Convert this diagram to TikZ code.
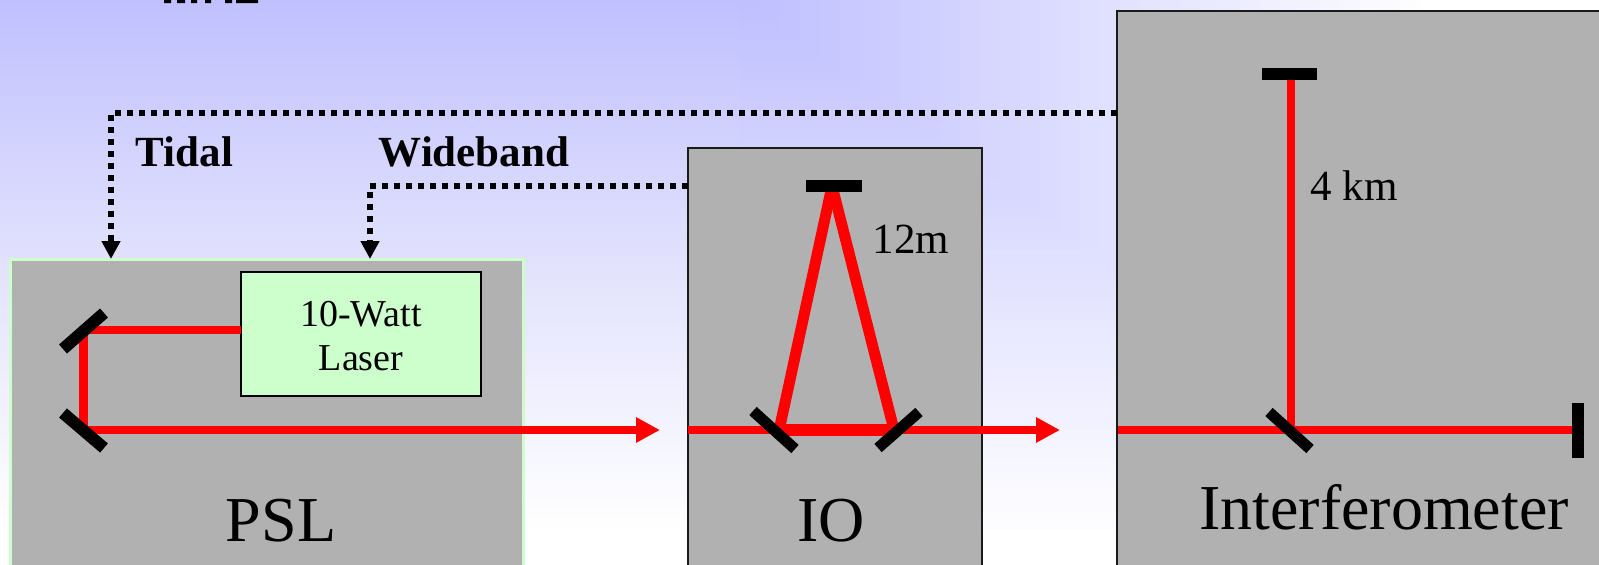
\documentclass[tikz,border=0pt]{standalone}
\usepackage{fontspec}
\setmainfont{Liberation Serif}
\usetikzlibrary{arrows.meta}
\definecolor{panelgray}{HTML}{B1B1B1}
\definecolor{palegreen}{HTML}{CCFFCC}
\definecolor{boxedge}{HTML}{1A1A1A}
\definecolor{bgtop}{HTML}{C0C0FF}
\definecolor{bgmid}{HTML}{E2E2FD}
\tikzset{
  panel/.style={draw=boxedge,fill=panelgray,line width=2.2pt,anchor=north west,inner sep=0pt,outer sep=0pt},
  pslpanel/.style={panel,draw=palegreen,line width=3pt},
  laserbox/.style={panel,draw=black,line width=2.5pt,fill=palegreen},
  beam/.style={draw=red,line width=8.5pt},
  fatbeam/.style={draw=red,line width=11.5pt},
  beamarrow/.style={beam,-{Triangle[length=24pt,width=24pt]}},
  mirror/.style={draw=black,line width=12pt},
  control/.style={draw=black,line width=6.5pt,dash pattern=on 6pt off 6pt,-{Triangle[length=18pt,width=18pt]}},
  lbl/.style={inner sep=0pt,outer sep=0pt,anchor=base,text=black},
  big/.style={lbl,font=\fontsize{64}{64}\selectfont},
  mid/.style={lbl,font=\fontsize{43}{43}\selectfont},
  small/.style={lbl,font=\fontsize{38}{38}\selectfont},
  boldlbl/.style={lbl,font=\fontsize{43}{43}\selectfont\bfseries},
}
\begin{document}
\begin{tikzpicture}[x=1pt,y=-1pt]
\useasboundingbox (0,0) rectangle (1599,565);
\clip (0,0) rectangle (1599,565);
% background
\shade[top color=bgtop,bottom color=white,middle color=bgmid] (0,0) rectangle (1599,530);
\fill[white] (0,530) rectangle (1599,565);
\foreach \x in {740,760,...,1580}{
  \pgfmathtruncatemacro{\hv}{min(255,192+(\x-740)/680*63)}
  \foreach \y in {0,10,...,560}{
    \pgfmathtruncatemacro{\vv}{\y<265 ? 192+\y/265*34 : min(255,226+(\y-265)/265*29)}
    \pgfmathtruncatemacro{\cv}{max(\hv,\vv)}
    \definecolor{tilecol}{RGB}{\cv,\cv,255}
    \fill[tilecol] (\x,\y) rectangle (\x+20,\y+10);
  }
}
% clipped remains of a heading
\fill[black] (164,0) rectangle (171,3) (177,0) rectangle (185,3) (191,0) rectangle (197,3)
  (205,0) rectangle (211,3) (225,0) rectangle (232,3) (236,0) rectangle (258,3);
% panels
\node[pslpanel,minimum width=513pt,minimum height=310pt] (psl) at (10,259) {};
\node[panel,minimum width=294pt,minimum height=420pt] (io) at (688,148) {};
\node[panel,minimum width=500pt,minimum height=560pt] (ifo) at (1117,11) {};
\node[laserbox,minimum width=240pt,minimum height=124pt] (laser) at (241,272) {};
% anchors
\coordinate (mA) at (83.5,330);
\coordinate (mB) at (83.5,430);
\coordinate (pslOut) at (660,430);
\coordinate (ioIn) at (688,430);
\coordinate (ioOut) at (1060,430);
\coordinate (ioL) at (776,430);
\coordinate (ioR) at (897,430);
\coordinate (ioT) at (832,186);
\coordinate (ifoIn) at (1118,430);
\coordinate (ifoBS) at (1291,430);
\coordinate (ifoT) at (1291,74);
\coordinate (ifoE) at (1578,430);
\coordinate (tidalTap) at (1117,113);
\coordinate (tidalEnd) at (111,259);
\coordinate (wideTap) at (688,186);
\coordinate (wideEnd) at (370,259);
% control lines
\draw[control] (tidalTap) -| (tidalEnd);
\draw[control] (wideTap) -| (wideEnd);
% beams
\draw[beam] (laser.west |- mA) -- (mA) -- (mB);
\draw[beamarrow] (mB) -- (pslOut);
\draw[beamarrow] (ioIn) -- (ioOut);
\draw[fatbeam] (ioL) -- (ioR);
\draw[draw=red,line width=11pt] (ioL) ++(4,-4) -- (ioT);
\draw[draw=red,line width=11pt] (ioR) ++(-4,-4) -- (ioT);
\draw[beam] (ifoIn) -- (ifoE);
\draw[beam] (ifoBS) -- (ifoT);
% mirrors
\draw[mirror] (104,313) -- (63,349);
\draw[mirror] (63,413) -- (104,448);
\draw[mirror,line width=11pt] (753,411) -- (795,449);
\draw[mirror,line width=11pt] (919,412) -- (878,448);
\draw[mirror] (806,186) -- (862,186);
\draw[mirror] (1262,74) -- (1317,74);
\draw[mirror,line width=11pt] (1269,412) -- (1310,449);
\draw[mirror] (1578,403) -- (1578,458);
% labels
\node[boldlbl] (tidalLbl) at (184.5,166) {Tidal};
\node[boldlbl] (wideLbl) at (474,166) {Wideband};
\node[small] (laserA) at (361,326) {10-Watt};
\node[small] (laserB) at (361,370) {Laser};
\node[big] (pslLbl) at (281,541) {PSL};
\node[big] (ioLbl) at (831,541) {IO};
\node[big] (ifoLbl) at (1384,529) {Interferometer};
\node[mid] (cavLbl) at (911,253) {12m};
\node[mid] (armLbl) at (1354,200) {4 km};
\end{tikzpicture}
\end{document}
